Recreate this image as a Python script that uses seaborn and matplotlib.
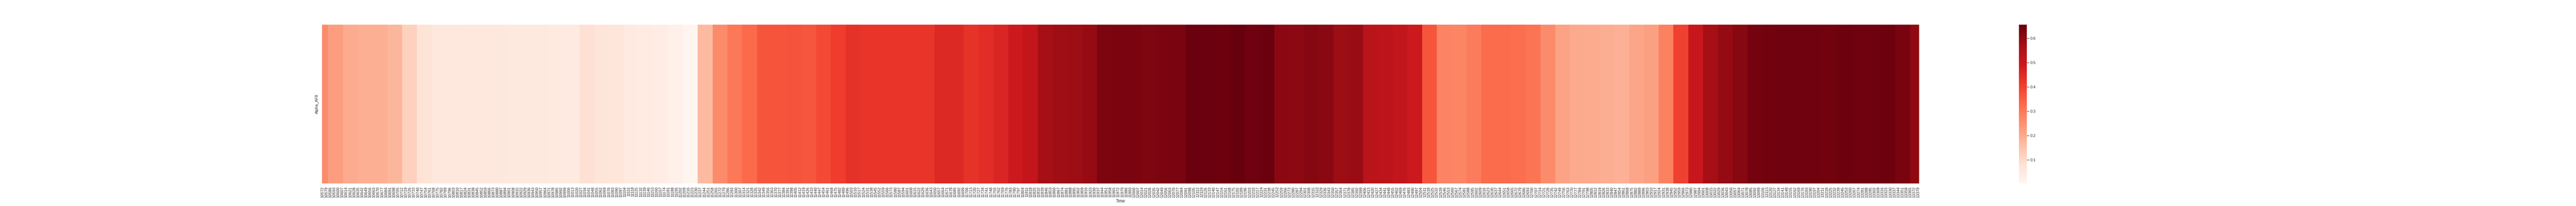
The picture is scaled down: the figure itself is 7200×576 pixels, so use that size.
import numpy as np
import pandas as pd
import matplotlib
matplotlib.use("Agg")
import matplotlib.pyplot as plt
import seaborn as sns

# Time index starts here, one column per sample
time_start = 10572

# Alpha_AF8 holds its value for a block of samples before updating
block_lengths = [11] + [26] * 107 + [16]

alpha_af8 = [
    0.262, 0.226, 0.197, 0.190, 0.190, 0.177, 0.118, 0.072, 0.056, 0.056,
    0.059, 0.059, 0.059, 0.049, 0.049, 0.049, 0.046, 0.046, 0.082, 0.066,
    0.062, 0.046, 0.043, 0.036, 0.023, 0.003, 0.167, 0.262, 0.300, 0.328,
    0.367, 0.367, 0.370, 0.364, 0.384, 0.410, 0.433, 0.426, 0.426, 0.426,
    0.426, 0.426, 0.453, 0.453, 0.430, 0.443, 0.460, 0.490, 0.510, 0.570,
    0.580, 0.587, 0.594, 0.626, 0.628, 0.628, 0.623, 0.630, 0.630, 0.650,
    0.650, 0.646, 0.656, 0.645, 0.650, 0.610, 0.607, 0.617, 0.610, 0.587,
    0.588, 0.531, 0.525, 0.515, 0.490, 0.367, 0.276, 0.274, 0.292, 0.325,
    0.325, 0.321, 0.308, 0.262, 0.216, 0.200, 0.197, 0.193, 0.189, 0.210,
    0.220, 0.282, 0.403, 0.500, 0.570, 0.594, 0.613, 0.636, 0.643, 0.645,
    0.644, 0.645, 0.643, 0.646, 0.644, 0.645, 0.646, 0.633, 0.604,
]


def plot_alpha_heatmap():
    sns.set_theme()
    plt.rcParams['font.family'] = ['Liberation Sans', 'DejaVu Sans']

    values = np.repeat(alpha_af8, block_lengths)
    time = np.arange(time_start, time_start + len(values))
    df = pd.DataFrame([values], index=["Alpha_AF8"],
                      columns=pd.Index(time, name="Time"))

    fig, ax = plt.subplots(figsize=(100, 8), dpi=72)
    sns.heatmap(df, cmap="Reds", ax=ax)
    fig.savefig("out.png", dpi=72)
    plt.close(fig)


if __name__ == "__main__":
    plot_alpha_heatmap()
